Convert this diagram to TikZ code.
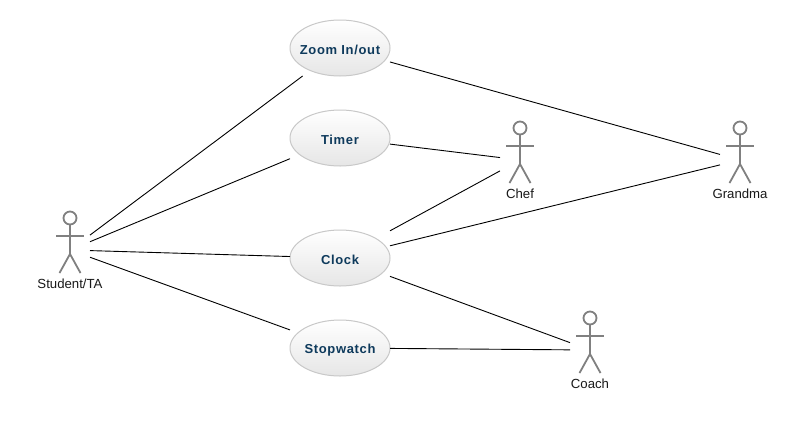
\documentclass[tikz,border=0pt]{standalone}
\usepackage{fontspec}
\setmainfont{Liberation Sans}
\usetikzlibrary{shapes.geometric}
\definecolor{ucborder}{HTML}{C8C8C8}
\definecolor{ucbottom}{HTML}{E6E6E6}
\definecolor{uctext}{HTML}{0E3A5C}
\definecolor{actorgray}{HTML}{808080}
\tikzset{
  ucshape/.style={ellipse,draw=ucborder,line width=1pt,top color=white,bottom color=ucbottom,minimum width=100pt,minimum height=56pt,inner sep=0pt,outer sep=0pt},
  ucbox/.style={rectangle,minimum width=100pt,minimum height=56pt,inner sep=0pt,outer sep=0pt},
  uctextstyle/.style={inner sep=0pt,text=uctext,font=\fontsize{13}{15}\selectfont\bfseries\addfontfeatures{LetterSpace=5}},
  actorbox/.style={rectangle,minimum width=40pt,minimum height=79pt,inner sep=0pt,outer sep=0pt},
  actorlabel/.style={inner sep=0pt,font=\fontsize{13.2}{15}\selectfont,text=black!90},
  actorline/.style={draw=actorgray,line width=1.8pt},
  link/.style={draw=black,line width=0.9pt}
}
\newcommand{\usecase}[3]{%
  \node[ucshape] (#1-shape) at (#2) {};
  \node[ucbox] (#1) at (#2) {};
  \node[uctextstyle] (#1-text) at ([yshift=-2pt]#1.center) {#3};
}
\newcommand{\actor}[3]{%
  \node[actorbox] (#1) at (#2) {};
  \node[actorlabel] (#1-label) at ([yshift=-33.5pt]#1.center) {#3};
  \draw[actorline] ([yshift=32pt]#1.center) circle[radius=6.5pt];
  \draw[actorline] ([yshift=25.5pt]#1.center) -- ([yshift=-4pt]#1.center);
  \draw[actorline] ([xshift=-14pt,yshift=14pt]#1.center) -- ([xshift=14pt,yshift=14pt]#1.center);
  \draw[actorline] ([xshift=-10.5pt,yshift=-23pt]#1.center) -- ([yshift=-4pt]#1.center) -- ([xshift=10.5pt,yshift=-23pt]#1.center);
}
\begin{document}
\begin{tikzpicture}[x=1pt,y=-1pt]
\useasboundingbox[fill=white] (0,0) rectangle (810,440);
\usecase{zoom}{340,48}{Zoom In/out}
\usecase{timer}{340,138}{Timer}
\usecase{clock}{340,258}{Clock}
\usecase{stopwatch}{340,348}{Stopwatch}
\actor{student}{70,250}{Student/TA}
\actor{chef}{520,160}{Chef}
\actor{grandma}{740,160}{Grandma}
\actor{coach}{590,350}{Coach}
\draw[link] (student) -- (zoom);
\draw[link] (student) -- (timer);
\draw[link] (student) -- (clock);
\draw[link] (student) -- (stopwatch);
\draw[link] (zoom) -- (grandma);
\draw[link] (timer) -- (chef);
\draw[link] (clock) -- (chef);
\draw[link] (clock) -- (grandma);
\draw[link] (clock) -- (coach);
\draw[link] (stopwatch) -- (coach);
\end{tikzpicture}
\end{document}
